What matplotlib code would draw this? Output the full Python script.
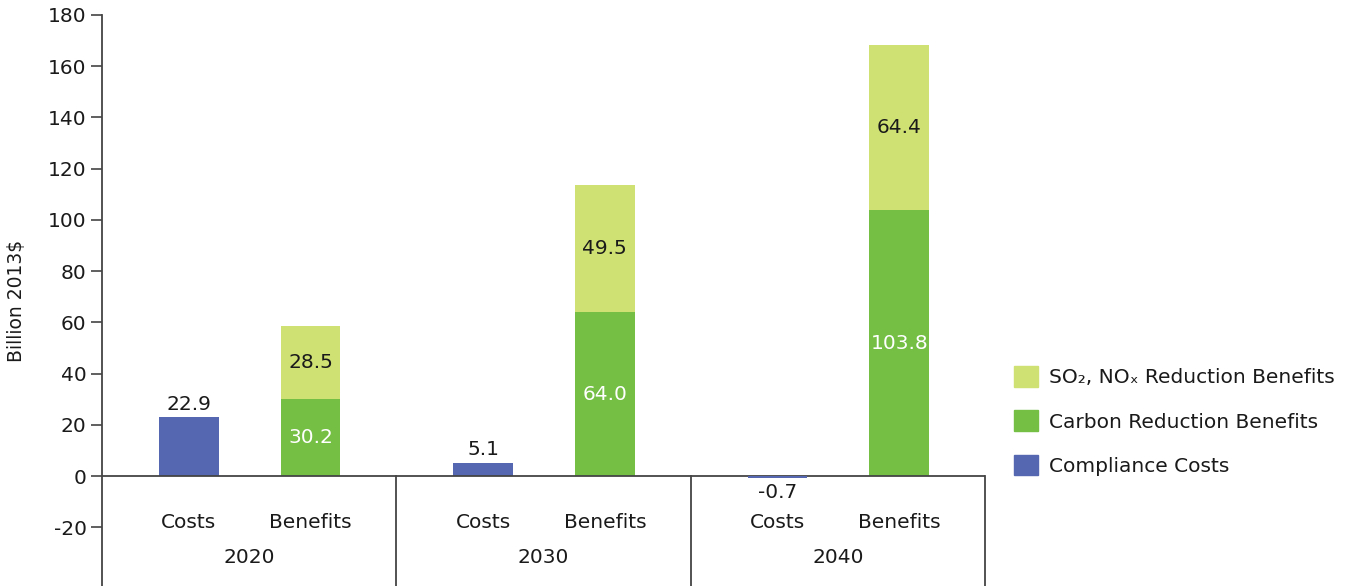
import matplotlib
matplotlib.use("Agg")
import matplotlib.pyplot as plt
from matplotlib.patches import Patch

plt.rcParams['font.family'] = ['DejaVu Sans']
plt.rcParams['axes.unicode_minus'] = False

years = ["2020", "2030", "2040"]
sub_labels = ["Costs", "Benefits"]
compliance_costs = [22.9, 5.1, -0.7]
carbon_benefits = [30.2, 64.0, 103.8]
so2_nox_benefits = [28.5, 49.5, 64.4]
yticks = [-20, 0, 20, 40, 60, 80, 100, 120, 140, 160, 180]

c_blue = "#5567B0"
c_green = "#74BF44"
c_light = "#D0E173"
tc = '#1a1a1a'
fs = 14.5

fig = plt.figure(figsize=(13.65, 5.86), dpi=100)
ax = fig.add_axes([102/1365, 0, (985-102)/1365, 1-15/586])

ymin, ymax = -42.95, 180
ax.set_ylim(ymin, ymax)
ax.set_xlim(0, len(years))

cost_off = 87/295
ben_off = 209/295
w = 60/295

for i, y in enumerate(years):
    xc = i + cost_off
    xb = i + ben_off
    ax.bar(xc, compliance_costs[i], width=w, color=c_blue, zorder=4 if compliance_costs[i] < 0 else 2)
    ax.bar(xb, carbon_benefits[i], width=w, color=c_green, zorder=2)
    ax.bar(xb, so2_nox_benefits[i], width=w, bottom=carbon_benefits[i], color=c_light, zorder=2)
    v = compliance_costs[i]
    if v >= 0:
        ax.text(xc, v + 1.5, f"{v:.1f}", ha='center', va='bottom', fontsize=fs, color=tc)
    else:
        ax.text(xc, v - 2.0, f"{v:.1f}", ha='center', va='top', fontsize=fs, color=tc)
    ax.text(xb, carbon_benefits[i]/2, f"{carbon_benefits[i]:.1f}", ha='center', va='center',
            fontsize=fs, color='white')
    ax.text(xb, carbon_benefits[i] + so2_nox_benefits[i]/2, f"{so2_nox_benefits[i]:.1f}",
            ha='center', va='center', fontsize=fs, color=tc)
    ax.text(xc, -18.3, sub_labels[0], ha='center', va='center', fontsize=fs, color=tc)
    ax.text(xb, -18.3, sub_labels[1], ha='center', va='center', fontsize=fs, color=tc)
    ax.text(i + 0.5, -32.0, y, ha='center', va='center', fontsize=fs, color=tc)
    ax.plot([i + 1, i + 1], [ymin, 0], color='#444444', lw=1.3, clip_on=False, zorder=3)

ax.axhline(0, color='#444444', lw=1.3, zorder=3)

for s in ['top', 'right', 'bottom']:
    ax.spines[s].set_visible(False)
ax.spines['left'].set_color('#444444')
ax.spines['left'].set_linewidth(1.3)
ax.set_xticks([])
ax.set_yticks(yticks)
ax.tick_params(axis='y', direction='out', length=8, width=1.2, color='#444444',
               labelsize=fs, labelcolor=tc, pad=3)
ax.set_ylabel("Billion 2013$", fontsize=13.5, color=tc, labelpad=16)

handles = [Patch(color=c_light), Patch(color=c_green), Patch(color=c_blue)]
labels = ["SO₂, NOₓ Reduction Benefits", "Carbon Reduction Benefits", "Compliance Costs"]
fig.legend(handles, labels, loc='center left', bbox_to_anchor=(996/1365, 1-421/586),
           frameon=False, fontsize=fs, handlelength=1.2, handleheight=1.2,
           handletextpad=0.55, labelspacing=1.15, labelcolor=tc)

fig.savefig("out.png", dpi=100)
